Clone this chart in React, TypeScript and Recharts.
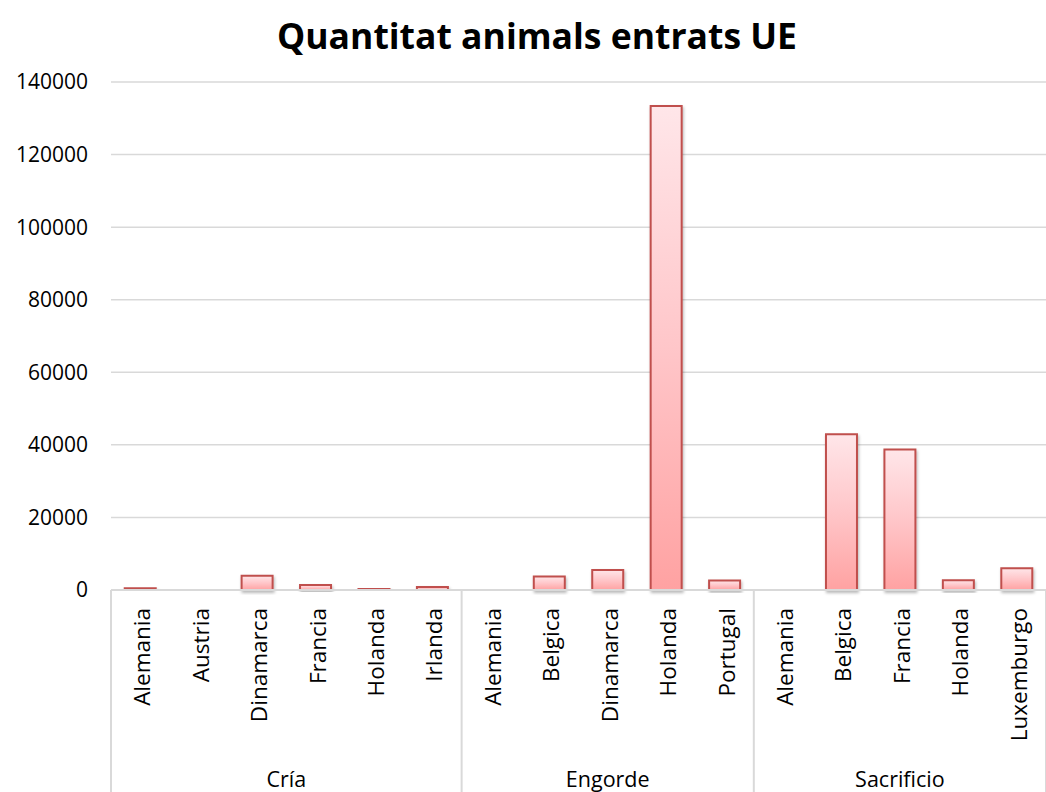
import React from 'react';
import { BarChart, Bar, XAxis, YAxis, CartesianGrid } from 'recharts';

const categories = [
  'Alemania', 'Austria', 'Dinamarca', 'Francia', 'Holanda', 'Irlanda',
  'Alemania', 'Belgica', 'Dinamarca', 'Holanda', 'Portugal',
  'Alemania', 'Belgica', 'Francia', 'Holanda', 'Luxemburgo',
];
const groupNames = ['Cría', 'Engorde', 'Sacrificio'];
const groupSizes = [6, 5, 5];
const values = [
  500, 30, 3900, 1400, 350, 850,
  50, 3700, 5500, 133400, 2650,
  80, 42900, 38700, 2700, 6000,
];
const yTicks = [0, 20000, 40000, 60000, 80000, 100000, 120000, 140000];

const W = 1046;
const H = 792;
const Y_W = 111;
const M_TOP = 82;
const M_RIGHT = 0;
const X_H = 202;
const PLOT_BOTTOM = H - X_H;
const BAND = (W - Y_W - M_RIGHT) / categories.length;
const FONT = '"Open Sans", sans-serif';
const LINE = '#D9D9D9';

const groupOf: number[] = [];
const groupStart: number[] = [];
groupSizes.forEach((s, g) => {
  for (let k = 0; k < s; k++) {
    groupOf.push(g);
    groupStart.push(k === 0 ? 1 : 0);
  }
});

const data = categories.map((c, i) => ({
  key: `${groupNames[groupOf[i]]}-${c}-${i}`,
  name: c,
  value: values[i],
}));

const CountryTick = (props: any) => {
  const { x, payload, index } = props;
  const i = typeof index === 'number' ? index : payload.index;
  const item = data[i];
  const cx = x + 1.5;
  const labelY = PLOT_BOTTOM + 18;
  const g = groupOf[i];
  const els: React.ReactNode[] = [];
  els.push(
    <text
      key="t"
      x={cx}
      y={labelY}
      transform={`rotate(-90 ${cx} ${labelY})`}
      textAnchor="end"
      dominantBaseline="central"
      fontSize={22.5}
      fontFamily={FONT}
      fill="#000"
    >
      {item ? item.name : ''}
    </text>
  );
  if (groupStart[i]) {
    const left = x - BAND / 2;
    els.push(
      <line key="l" x1={left} x2={left} y1={PLOT_BOTTOM} y2={H} stroke={LINE} strokeWidth={2} />
    );
    els.push(
      <text
        key="g"
        x={left + (groupSizes[g] * BAND) / 2}
        y={778}
        textAnchor="middle"
        dominantBaseline="central"
        fontSize={21.5}
        fontFamily={FONT}
        fill="#000"
      >
        {groupNames[g]}
      </text>
    );
  }
  if (i === categories.length - 1) {
    const right = x + BAND / 2;
    els.push(
      <line key="r" x1={right} x2={right} y1={PLOT_BOTTOM} y2={H} stroke={LINE} strokeWidth={2} />
    );
  }
  return <g>{els}</g>;
};

export default function App() {
  return (
    <div style={{ position: 'absolute', left: 0, top: 0, width: W, height: H, background: '#fff' }}>
      <BarChart
        width={W}
        height={H}
        data={data}
        margin={{ top: M_TOP, right: M_RIGHT, left: 0, bottom: 0 }}
        barCategoryGap="23.5%"
      >
        <defs>
          <linearGradient id="barGrad" x1="0" y1="0" x2="0" y2="1">
            <stop offset="0%" stopColor="#FFE6E9" />
            <stop offset="50%" stopColor="#FFC6C9" />
            <stop offset="100%" stopColor="#FFA2A2" />
          </linearGradient>
          <filter id="shadow" x="-30%" y="-30%" width="160%" height="160%">
            <feDropShadow dx="1" dy="2" stdDeviation="1.8" floodColor="#000" floodOpacity="0.28" />
          </filter>
        </defs>
        <text
          x={537}
          y={35}
          textAnchor="middle"
          dominantBaseline="central"
          fontSize={35.5}
          fontWeight="bold"
          fontFamily={FONT}
          fill="#000"
        >
          Quantitat animals entrats UE
        </text>
        <CartesianGrid vertical={false} stroke={LINE} strokeWidth={1.5} />
        <XAxis
          dataKey="key"
          interval={0}
          height={X_H}
          axisLine={{ stroke: LINE, strokeWidth: 2 }}
          tickLine={false}
          tick={<CountryTick />}
        />
        <YAxis
          domain={[0, 140000]}
          ticks={yTicks}
          width={Y_W}
          axisLine={false}
          tickLine={false}
          tickSize={0}
          tickMargin={23}
          tick={{ fontSize: 21, fontFamily: FONT, fill: '#000' }}
        />
        <Bar
          dataKey="value"
          fill="url(#barGrad)"
          stroke="#C0504D"
          strokeWidth={2}
          filter="url(#shadow)"
          isAnimationActive={false}
        />
      </BarChart>
    </div>
  );
}
